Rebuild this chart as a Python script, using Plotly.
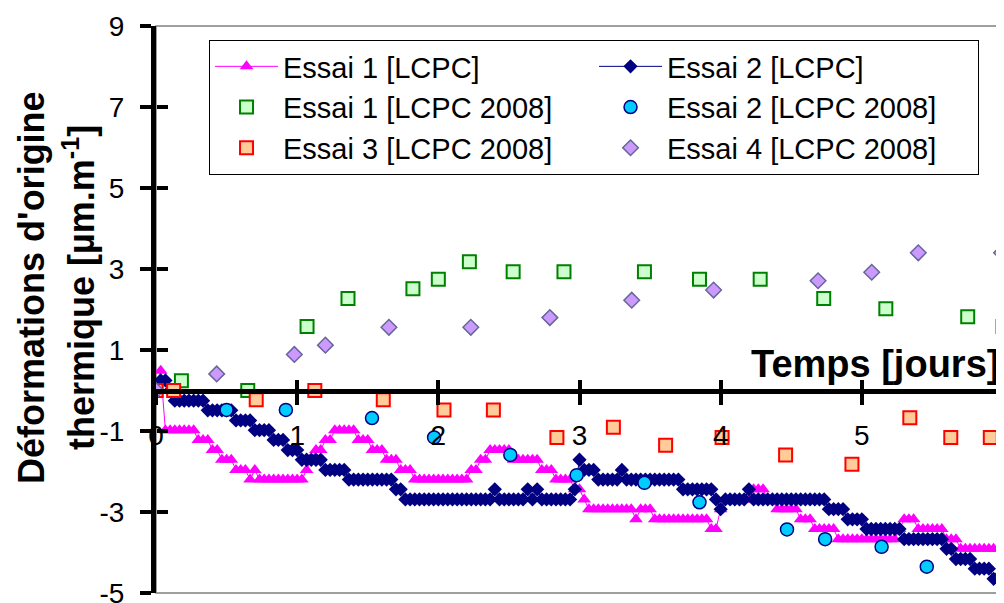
import plotly.graph_objects as go

# ---------------- data ----------------
# sampling times (days) of the continuous LCPC records
time = [round(i / 30, 4) for i in range(181)]

essai1_lcpc = [
    0, 0.49, -0.98, -0.98, -0.98, -0.98, -0.98, -0.98, -0.98, -1.22,
    -1.22, -1.22, -1.47, -1.47, -1.71, -1.71, -1.71, -1.96, -1.96, -1.96,
    -2.20, -1.96, -2.20, -2.20, -2.20, -2.20, -2.20, -2.20, -2.20, -2.20,
    -2.20, -2.20, -1.96, -1.71, -1.47, -1.47, -1.22, -1.22, -0.98, -0.98,
    -0.98, -0.98, -0.98, -1.22, -1.22, -1.22, -1.47, -1.47, -1.47, -1.71,
    -1.71, -1.71, -1.96, -1.96, -1.96, -2.20, -2.20, -2.20, -2.20, -2.20,
    -2.20, -2.20, -2.20, -2.20, -2.20, -2.20, -2.20, -1.96, -1.96, -1.71,
    -1.71, -1.47, -1.47, -1.47, -1.47, -1.47, -1.71, -1.71, -1.71, -1.71,
    -1.71, -1.71, -1.96, -1.96, -1.96, -2.20, -2.20, -2.20, -2.20, -2.44,
    -2.44, -2.69, -2.93, -2.93, -2.93, -2.93, -2.93, -2.93, -2.93, -2.93,
    -2.93, -2.93, -3.18, -2.93, -2.93, -2.93, -3.18, -3.18, -3.18, -3.18,
    -3.18, -3.18, -3.18, -3.18, -3.18, -3.18, -3.18, -3.18, -3.42, -3.42,
    -2.93, -2.69, -2.69, -2.69, -2.69, -2.69, -2.69, -2.44, -2.44, -2.44,
    -2.69, -2.69, -2.93, -2.93, -2.93, -2.93, -2.93, -3.18, -3.18, -3.18,
    -3.42, -3.42, -3.42, -3.42, -3.42, -3.67, -3.67, -3.67, -3.67, -3.67,
    -3.67, -3.67, -3.67, -3.67, -3.67, -3.67, -3.67, -3.67, -3.42, -3.18,
    -3.18, -3.18, -3.42, -3.42, -3.42, -3.42, -3.42, -3.42, -3.67, -3.67,
    -3.67, -3.91, -3.91, -3.91, -3.91, -3.91, -3.91, -3.91, -3.91, -3.91,
    -3.91,
]

essai2_lcpc = [
    0, 0.25, 0.25, 0, -0.25, -0.25, -0.25, -0.25, -0.25, -0.25,
    -0.25, -0.49, -0.49, -0.49, -0.49, -0.49, -0.49, -0.74, -0.74, -0.74,
    -0.74, -0.98, -0.98, -0.98, -0.98, -1.22, -1.22, -1.22, -1.47, -1.47,
    -1.47, -1.71, -1.71, -1.71, -1.71, -1.71, -1.96, -1.96, -1.96, -1.96,
    -1.96, -2.20, -2.20, -2.20, -2.20, -2.20, -2.20, -2.20, -2.20, -2.20,
    -2.20, -2.44, -2.44, -2.69, -2.69, -2.69, -2.69, -2.69, -2.69, -2.69,
    -2.69, -2.69, -2.69, -2.69, -2.69, -2.69, -2.69, -2.69, -2.69, -2.69,
    -2.69, -2.69, -2.44, -2.69, -2.69, -2.69, -2.69, -2.69, -2.69, -2.44,
    -2.69, -2.44, -2.69, -2.69, -2.69, -2.69, -2.69, -2.69, -2.69, -2.44,
    -1.71, -1.96, -1.96, -1.96, -2.20, -2.20, -2.20, -2.20, -2.20, -1.96,
    -2.20, -2.20, -2.20, -2.20, -2.20, -2.20, -2.20, -2.20, -2.20, -2.20,
    -2.20, -2.20, -2.44, -2.44, -2.44, -2.44, -2.44, -2.44, -2.44, -2.69,
    -2.93, -2.69, -2.69, -2.69, -2.69, -2.69, -2.44, -2.69, -2.69, -2.69,
    -2.69, -2.69, -2.69, -2.69, -2.69, -2.69, -2.69, -2.69, -2.69, -2.69,
    -2.69, -2.69, -2.69, -2.93, -2.93, -2.93, -2.93, -3.18, -3.18, -3.18,
    -3.18, -3.42, -3.42, -3.42, -3.42, -3.42, -3.42, -3.42, -3.42, -3.67,
    -3.67, -3.67, -3.67, -3.67, -3.67, -3.67, -3.67, -3.67, -3.91, -3.91,
    -4.16, -4.16, -4.16, -4.16, -4.40, -4.40, -4.40, -4.40, -4.65, -4.65,
    -4.40,
]

e1_2008_t = [0.0, 0.18, 0.65, 1.07, 1.36, 1.82, 2.00, 2.22, 2.53, 2.89, 3.46, 3.85, 4.28, 4.73, 5.17, 5.75, 6.0]
e1_2008_v = [0.0, 0.24, 0.0, 1.58, 2.27, 2.51, 2.75, 3.18, 2.93, 2.93, 2.93, 2.75, 2.75, 2.27, 2.02, 1.82, 1.58]

e2_2008_t = [0.0, 0.50, 0.92, 1.53, 1.97, 2.51, 2.98, 3.46, 3.85, 4.47, 4.74, 5.14, 5.46, 5.99]
e2_2008_v = [0.0, -0.48, -0.48, -0.68, -1.16, -1.59, -2.09, -2.28, -2.76, -3.43, -3.67, -3.86, -4.35, -4.60]

e3_2008_t = [0.0, 0.125, 0.71, 1.125, 1.61, 2.04, 2.39, 2.84, 3.24, 3.61, 4.01, 4.46, 4.93, 5.34, 5.63, 5.91]
e3_2008_v = [0.0, 0.0, -0.23, 0.0, -0.23, -0.48, -0.48, -1.16, -0.91, -1.35, -1.16, -1.59, -1.82, -0.67, -1.16, -1.16]

e4_2008_t = [0.0, 0.43, 0.98, 1.20, 1.65, 2.23, 2.79, 3.37, 3.95, 4.69, 5.07, 5.40, 5.99]
e4_2008_v = [0.0, 0.41, 0.89, 1.12, 1.56, 1.56, 1.80, 2.23, 2.48, 2.71, 2.92, 3.40, 3.40]

x_ticks = [0, 1, 2, 3, 4, 5, 6]
y_ticks = [-5, -3, -1, 1, 3, 5, 7, 9]
y_tick_text = ["-5", "-3", "-1", "1", "3", "5", "7", "9"]
x_range = [0, 6]
y_range = [-5, 9]

FONT = "Arial, Liberation Sans, sans-serif"

fig = go.Figure()

fig.add_trace(go.Scatter(
    x=time, y=essai1_lcpc, name="Essai 1 [LCPC]", mode="lines+markers",
    line=dict(color="#FF00FF", width=1),
    marker=dict(symbol="triangle-up", size=12, color="#FF00FF"),
))
fig.add_trace(go.Scatter(
    x=time, y=essai2_lcpc, name="Essai 2 [LCPC]", mode="lines+markers",
    line=dict(color="#000080", width=1),
    marker=dict(symbol="diamond", size=11, color="#000080"),
))
fig.add_trace(go.Scatter(
    x=e1_2008_t, y=e1_2008_v, name="Essai 1 [LCPC 2008]", mode="markers",
    marker=dict(symbol="square", size=13, color="#CCFFCC",
                line=dict(color="#008000", width=2)),
))
fig.add_trace(go.Scatter(
    x=e2_2008_t, y=e2_2008_v, name="Essai 2 [LCPC 2008]", mode="markers",
    marker=dict(symbol="circle", size=13, color="#00CCFF",
                line=dict(color="#000080", width=1.5)),
))
fig.add_trace(go.Scatter(
    x=e3_2008_t, y=e3_2008_v, name="Essai 3 [LCPC 2008]", mode="markers",
    marker=dict(symbol="square", size=13, color="#FFCC99",
                line=dict(color="#FF0000", width=2)),
))
fig.add_trace(go.Scatter(
    x=e4_2008_t, y=e4_2008_v, name="Essai 4 [LCPC 2008]", mode="markers",
    marker=dict(symbol="diamond", size=12, color="#CC99FF",
                line=dict(color="#666699", width=1.5)),
))
# helper trace so that the overlay axes (inner half of crossing ticks) are drawn
fig.add_trace(go.Scatter(x=[None], y=[None], xaxis="x2", yaxis="y2",
                         showlegend=False, hoverinfo="skip"))

x_pos = (0 - y_range[0]) / (y_range[1] - y_range[0])

# the page adds an 8px body margin: the figure is sized to fill the rest
fig.update_layout(
    width=996, height=595,
    margin=dict(l=148, r=1, t=18, b=10),
    paper_bgcolor="white", plot_bgcolor="white",
    font=dict(family=FONT, color="black"),
    xaxis=dict(
        range=x_range, tickvals=x_ticks, anchor="free", position=x_pos,
        showline=True, linecolor="black", linewidth=5,
        ticks="outside", ticklen=11, tickwidth=4, tickcolor="black",
        tickfont=dict(size=28, family=FONT), ticklabelstandoff=7,
        ticklabeloverflow="allow", automargin=False,
        showgrid=False, zeroline=False,
    ),
    yaxis=dict(
        range=y_range, tickvals=y_ticks, ticktext=y_tick_text, domain=[0, 1],
        showline=True, linecolor="black", linewidth=5,
        ticks="outside", ticklen=11, tickwidth=4, tickcolor="black",
        tickfont=dict(size=28, family=FONT), ticklabelstandoff=10,
        ticklabeloverflow="allow", automargin=False,
        showgrid=False, zeroline=False,
    ),
    xaxis2=dict(
        range=x_range, tickvals=x_ticks, overlaying="x", anchor="free", position=x_pos,
        ticks="inside", ticklen=11, tickwidth=4, tickcolor="black", automargin=False,
        showticklabels=False, showline=False, showgrid=False, zeroline=False,
    ),
    yaxis2=dict(
        range=y_range, tickvals=y_ticks, overlaying="y", anchor="free", position=0,
        ticks="inside", ticklen=11, tickwidth=4, tickcolor="black", automargin=False,
        showticklabels=False, showline=False, showgrid=False, zeroline=False,
    ),
    legend=dict(
        orientation="h", x=0.0626, y=0.9753, xanchor="left", yanchor="top",
        entrywidth=306, entrywidthmode="pixels", itemwidth=63,
        font=dict(size=29, family=FONT), bgcolor="white",
        bordercolor="black", borderwidth=1, traceorder="normal",
    ),
    shapes=[dict(type="rect", xref="paper", yref="paper", x0=0, x1=1, y0=0, y1=1,
                 line=dict(color="#808080", width=1.5), layer="below")],
    annotations=[
        dict(text="Temps [jours]", xref="paper", x=1, xanchor="right", xshift=-2,
             yref="y", y=0, yanchor="bottom", yshift=4, showarrow=False,
             font=dict(size=38, family=FONT, weight="bold")),
        dict(text="Déformations d'origine",
             xref="paper", x=0, xshift=-124, xanchor="center",
             yref="paper", y=0.538, yanchor="middle", textangle=-90,
             showarrow=False, font=dict(size=36, family=FONT, weight="bold")),
        dict(text="thermique [µm.m<sup>-1</sup>]",
             xref="paper", x=0, xshift=-77, xanchor="center",
             yref="paper", y=0.538, yanchor="middle", textangle=-90,
             showarrow=False, font=dict(size=36, family=FONT, weight="bold")),
    ],
    showlegend=True,
)

fig.write_html("out.html")
